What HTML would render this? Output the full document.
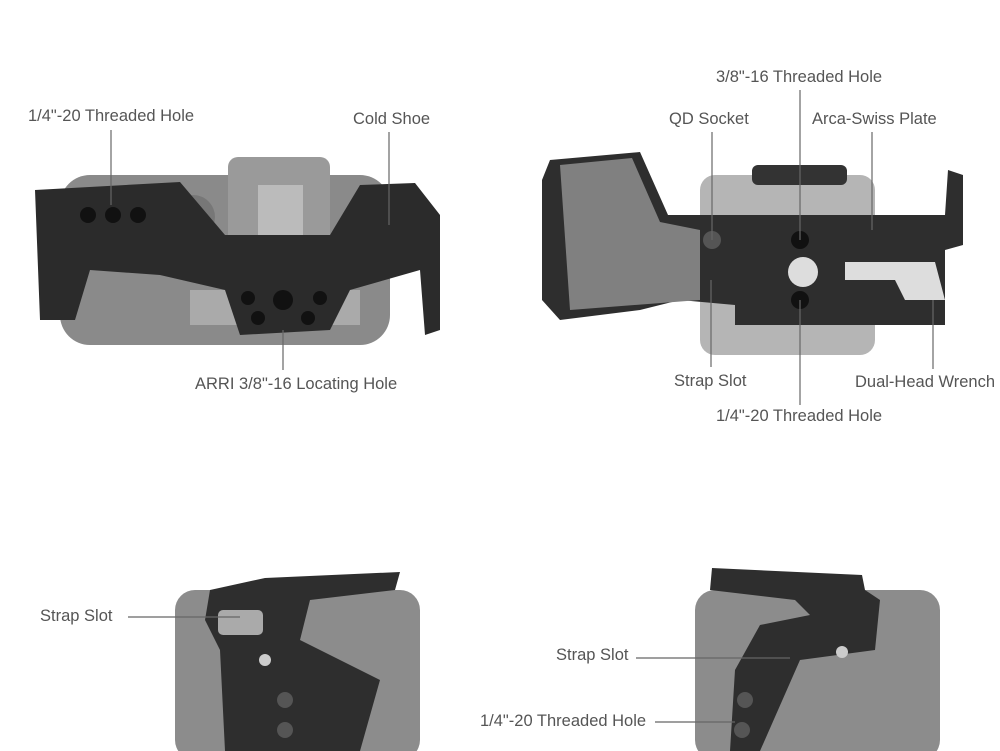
<!DOCTYPE html>
<html><head><style>
body{margin:0;width:1000px;height:751px;background:#fff;position:relative;overflow:hidden;font-family:"Liberation Sans",sans-serif}
.t{position:absolute;font-size:16.5px;color:#555;white-space:nowrap}
.a{position:absolute}
</style></head><body>
<svg class="a" style="left:0;top:0" width="1000" height="751">
<rect x="60" y="175" width="330" height="170" rx="30" fill="#8a8a8a"/>
<rect x="228" y="157" width="102" height="110" rx="10" fill="#9a9a9a"/>
<rect x="258" y="185" width="45" height="50" fill="#bbb"/>
<rect x="190" y="290" width="170" height="35" fill="#aaa"/>
<circle cx="193" cy="217" r="22" fill="#777"/>
<path d="M35 190 L180 182 L225 235 L330 235 L360 185 L415 183 L440 215 L440 330 L425 335 L420 270 L350 290 L330 330 L240 335 L225 290 L160 275 L90 270 L75 320 L40 320 Z" fill="#2b2b2b"/>
<circle cx="88" cy="215" r="8" fill="#111"/><circle cx="113" cy="215" r="8" fill="#111"/><circle cx="138" cy="215" r="8" fill="#111"/>
<circle cx="283" cy="300" r="10" fill="#111"/><circle cx="248" cy="298" r="7" fill="#111"/><circle cx="320" cy="298" r="7" fill="#111"/><circle cx="258" cy="318" r="7" fill="#111"/><circle cx="308" cy="318" r="7" fill="#111"/>
<rect x="700" y="175" width="175" height="180" rx="15" fill="#b5b5b5"/>
<rect x="752" y="165" width="95" height="20" rx="6" fill="#333"/>
<path d="M550 160 L640 152 L668 215 L945 215 L948 170 L963 175 L963 245 L945 250 L945 325 L735 325 L735 305 L680 300 L640 310 L560 320 L542 300 L542 180 Z" fill="#2e2e2e"/>
<path d="M560 165 L632 158 L660 222 L700 230 L700 300 L570 310 Z" fill="#808080"/>
<circle cx="800" cy="240" r="9" fill="#111"/><circle cx="800" cy="300" r="9" fill="#111"/>
<circle cx="712" cy="240" r="9" fill="#555"/>
<circle cx="803" cy="272" r="15" fill="#ddd"/>
<path d="M845 262 L935 262 L945 300 L905 300 L895 280 L845 280 Z" fill="#ddd"/>
<rect x="175" y="590" width="245" height="170" rx="20" fill="#8c8c8c"/>
<path d="M210 590 L265 578 L400 572 L395 590 L310 600 L300 640 L380 680 L360 751 L225 751 L220 650 L205 620 Z" fill="#2e2e2e"/>
<rect x="218" y="610" width="45" height="25" rx="5" fill="#aaa"/>
<circle cx="265" cy="660" r="6" fill="#ccc"/><circle cx="285" cy="700" r="8" fill="#555"/><circle cx="285" cy="730" r="8" fill="#555"/>
<rect x="695" y="590" width="245" height="170" rx="20" fill="#8c8c8c"/>
<path d="M712 568 L862 575 L865 590 L880 600 L875 650 L800 660 L760 751 L730 751 L735 670 L760 625 L810 615 L795 600 L710 590 Z" fill="#2e2e2e"/>
<circle cx="842" cy="652" r="6" fill="#ccc"/><circle cx="745" cy="700" r="8" fill="#555"/><circle cx="742" cy="730" r="8" fill="#555"/>
<g stroke="#666" stroke-width="1.2">
<line x1="111" y1="130" x2="111" y2="205"/>
<line x1="389" y1="132" x2="389" y2="225"/>
<line x1="283" y1="330" x2="283" y2="370"/>
<line x1="800" y1="90" x2="800" y2="240"/>
<line x1="712" y1="132" x2="712" y2="240"/>
<line x1="872" y1="132" x2="872" y2="230"/>
<line x1="711" y1="280" x2="711" y2="367"/>
<line x1="933" y1="300" x2="933" y2="369"/>
<line x1="800" y1="300" x2="800" y2="405"/>
<line x1="128" y1="617" x2="240" y2="617"/>
<line x1="636" y1="658" x2="790" y2="658"/>
<line x1="655" y1="722" x2="735" y2="722"/>
</g>
</svg>
<div class="t" style="left:28px;top:107px">1/4"-20 Threaded Hole</div>
<div class="t" style="left:353px;top:110px">Cold Shoe</div>
<div class="t" style="left:195px;top:375px">ARRI 3/8"-16 Locating Hole</div>
<div class="t" style="left:716px;top:68px">3/8"-16 Threaded Hole</div>
<div class="t" style="left:669px;top:110px">QD Socket</div>
<div class="t" style="left:812px;top:110px">Arca-Swiss Plate</div>
<div class="t" style="left:674px;top:372px">Strap Slot</div>
<div class="t" style="left:855px;top:373px">Dual-Head Wrench</div>
<div class="t" style="left:716px;top:407px">1/4"-20 Threaded Hole</div>
<div class="t" style="left:40px;top:607px">Strap Slot</div>
<div class="t" style="left:556px;top:646px">Strap Slot</div>
<div class="t" style="left:480px;top:712px">1/4"-20 Threaded Hole</div>
</body></html>
